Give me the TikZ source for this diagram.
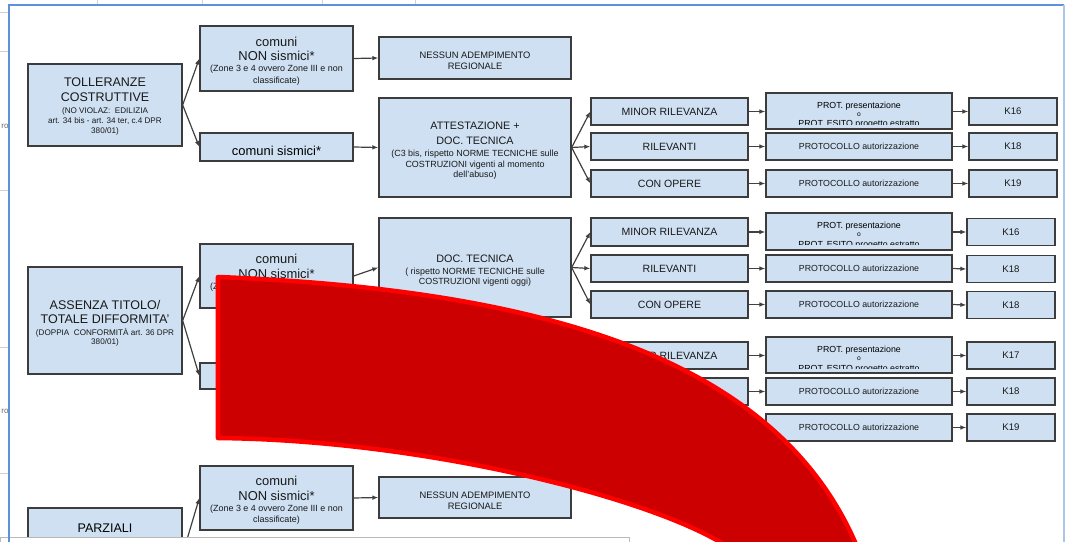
\documentclass[tikz,border=0pt]{standalone}
\usepackage{fontspec}
\setmainfont{Liberation Sans}
\usetikzlibrary{arrows.meta}

\definecolor{cellfill}{RGB}{206,224,242}
\definecolor{cellline}{RGB}{60,60,60}
\definecolor{bigred}{RGB}{204,0,0}
\definecolor{bigredrim}{RGB}{255,0,0}
\definecolor{frameblue}{RGB}{92,146,216}
\definecolor{frameblue2}{RGB}{172,198,236}

\newcommand\szNote{\fontsize{6.7pt}{7.5pt}\selectfont}
\newcommand\szNoteS{\fontsize{6.1pt}{7.5pt}\selectfont}
\newcommand\szCat{\fontsize{7.9pt}{9pt}\selectfont}
\newcommand\szProt{\fontsize{6.6pt}{7pt}\selectfont}
\newcommand\szKey{\fontsize{7.2pt}{8pt}\selectfont}
\newcommand\txtdrop[1]{\rule{0pt}{#1}}

\tikzset{every picture/.style={line width=0.75pt}}

\begin{document}
\begin{tikzpicture}[x=0.75pt,y=0.75pt,yscale=-1,xscale=1,
    cellbox/.style={draw=cellline, fill=cellfill, line width=1pt, inner sep=0pt, align=center, text=black!90},
    wtitle/.style={minimum width=115.5pt},
    wcomuni/.style={minimum width=114.75pt},
    wademp/.style={minimum width=144pt},
    wcat/.style={minimum width=117.75pt},
    wprot/.style={minimum width=139.5pt},
    wkey/.style={minimum width=66pt},
    hrow/.style={minimum height=20.25pt},
    ftitle/.style={font=\fontsize{9.4pt}{11.25pt}\selectfont},
    fassenza/.style={font=\fontsize{9.4pt}{10.5pt}\selectfont},
    fcomuni/.style={font=\fontsize{9.7pt}{10.7pt}\selectfont},
    fness/.style={font=\fontsize{7pt}{8.3pt}\selectfont},
    fatt/.style={font=\fontsize{8.1pt}{11pt}\selectfont},
    fdoc/.style={font=\fontsize{8.1pt}{9.5pt}\selectfont},
    fprot/.style={font=\fontsize{6.6pt}{9.75pt}\selectfont},
    conn/.style={draw=black!75, line width=0.9pt, -{Latex[length=4.5pt,width=3.5pt]}}]
    \useasboundingbox (0,0) rectangle (1067,542);
    \clip (0,0) rectangle (1067,542);

    %Shape: margin of the page behind
    \draw [gray!35] (0,13) -- (9,13) (0,52) -- (9,52) (0,190) -- (9,190) (0,347) -- (9,347) (0,473) -- (9,473);
    \draw [gray!35] (97,0) -- (97,5) (202,0) -- (202,5) (322,0) -- (322,5) (415,0) -- (415,5);
    % Text Node
    \node [anchor=east, inner sep=0pt, text=black!60] (cut1) at (9,126) {\fontsize{6pt}{7pt}\selectfont ro};
    % Text Node
    \node [anchor=east, inner sep=0pt, text=black!60] (cut2) at (9,411) {\fontsize{6pt}{7pt}\selectfont ro};

    %Shape: Rectangle -- TOLLERANZE
    \node [cellbox, ftitle, wtitle, minimum height=61.5pt] (toll) at (105,105) {\txtdrop{8.8pt}TOLLERANZE\\COSTRUTTIVE\\[-2.7pt]\szNoteS (NO VIOLAZ:\ \ EDILIZIA\\[-3.75pt]\szNoteS art. 34 bis - art. 34 ter, c.4 DPR\\[-3.75pt]\szNoteS 380/01)};
    %Shape: Rectangle
    \node [cellbox, fcomuni, wcomuni, minimum height=48.75pt] (nons1) at (276.5,58.5) {\txtdrop{10.8pt}comuni\\NON sismici*\\[-2.15pt]\szNote (Zone 3 e 4 ovvero Zone III e non\\[-2.2pt]\szNote classificate)};
    %Shape: Rectangle
    \node [cellbox, wcomuni, minimum height=21pt] (sism1) at (276.5,147) {};
    \begin{scope}
    \clip (200,133) rectangle (353,154.5);
    % Text Node
    \node [fcomuni, anchor=base, inner sep=0pt] (sism1t) at (276.5,155) {comuni sismici*};
    \end{scope}
    %Shape: Rectangle
    \node [cellbox, fness, wademp, minimum height=31.5pt] (ness1) at (475,58) {\txtdrop{9.6pt}NESSUN ADEMPIMENTO\\REGIONALE};
    %Shape: Rectangle
    \node [cellbox, fatt, wademp, minimum height=74.25pt] (att) at (475,147.5) {\txtdrop{10.4pt}ATTESTAZIONE +\\DOC. TECNICA\\[-1.5pt]\szNote (C3 bis, rispetto NORME TECNICHE sulle\\[-3pt]\szNote COSTRUZIONI vigenti al momento\\[-3.5pt]\szNote dell'abuso)};
    %Shape: Rectangle
    \node [cellbox, wcat, hrow] (minor1) at (669.5,111.5) {\szCat MINOR RILEVANZA};
    \node [cellbox, wcat, hrow] (rilev1) at (669.5,146.5) {\szCat RILEVANTI};
    \node [cellbox, wcat, hrow] (opere1) at (669.5,183.5) {\szCat CON OPERE};
    %Shape: Rectangle
    \node [cellbox, wprot, minimum height=27pt] (prot1) at (859,111) {};
    \begin{scope}
    \clip (766,93) rectangle (952,124);
    % Text Node
    \node [fprot, anchor=north, inner sep=0pt, align=center] (prot1t) at (859,101.6) {PROT. presentazione\\[-3.75pt]{\fontsize{5pt}{6pt}\selectfont o}\\[-1.9pt]PROT. ESITO progetto estratto};
    \end{scope}
    \node [cellbox, wprot, hrow] (aut1a) at (859,146.5) {\szProt PROTOCOLLO autorizzazione};
    \node [cellbox, wprot, hrow] (aut1b) at (859,183.5) {\szProt PROTOCOLLO autorizzazione};
    %Shape: Rectangle
    \node [cellbox, wkey, hrow] (k1a) at (1013,111.5) {\szKey K16};
    \node [cellbox, wkey, hrow] (k1b) at (1013,146.5) {\szKey K18};
    \node [cellbox, wkey, hrow] (k1c) at (1013,183.5) {\szKey K19};

    %Straight Lines
    \draw [conn] (toll.east) -- (nons1.west);
    \draw [conn] (toll.east) -- (sism1.west);
    \draw [conn] (nons1.east) -- (ness1.west);
    \draw [conn] (sism1.east) -- (att.west);
    \draw [conn] (att.east) -- (minor1.west);
    \draw [conn] (att.east) -- (rilev1.west);
    \draw [conn] (att.east) -- (opere1.west);
    \draw [conn] (minor1.east) -- (minor1.east -| prot1.west);
    \draw [conn] (rilev1.east) -- (aut1a.west);
    \draw [conn] (opere1.east) -- (aut1b.west);
    \draw [conn] (k1a.west -| prot1.east) -- (k1a.west);
    \draw [conn] (aut1a.east) -- (k1b.west);
    \draw [conn] (aut1b.east) -- (k1c.west);

    %Shape: Rectangle -- ASSENZA TITOLO
    \node [cellbox, fassenza, wtitle, minimum height=80.25pt] (ass) at (105,320.5) {\txtdrop{11.3pt}ASSENZA TITOLO/\\TOTALE DIFFORMITA'\\[-1.7pt]\szNoteS (DOPPIA\ \ CONFORMIT\`A art. 36 DPR\\[-3.5pt]\szNoteS 380/01)};
    %Shape: Rectangle
    \node [cellbox, fcomuni, wcomuni, minimum height=48pt] (nons2) at (276.5,276) {\txtdrop{10.8pt}comuni\\NON sismici*\\[-2.15pt]\szNote (Zone 3 e 4 ovvero Zone III e non\\[-2.2pt]\szNote classificate)};
    \node [cellbox, wcomuni, minimum height=19.5pt] (sism2) at (276.5,376) {};
    %Shape: Rectangle
    \node [cellbox, fdoc, wademp, minimum height=74.25pt] (doc) at (475,267.5) {\txtdrop{10.4pt}DOC. TECNICA\\\szNote ( rispetto NORME TECNICHE sulle\\[-2pt]\szNote COSTRUZIONI vigenti oggi)};
    %Shape: Rectangle
    \node [cellbox, wcat, minimum height=21pt] (minor2) at (669.5,232) {\szCat MINOR RILEVANZA};
    \node [cellbox, wcat, hrow] (rilev2) at (669.5,268.5) {\szCat RILEVANTI};
    \node [cellbox, wcat, hrow] (opere2) at (669.5,304.5) {\szCat CON OPERE};
    %Shape: Rectangle
    \node [cellbox, wprot, minimum height=27.75pt] (prot2) at (859,231.5) {};
    \begin{scope}
    \clip (766,213) rectangle (952,244);
    % Text Node
    \node [fprot, anchor=north, inner sep=0pt, align=center] (prot2t) at (859,221.8) {PROT. presentazione\\[-3.75pt]{\fontsize{5pt}{6pt}\selectfont o}\\[-1.9pt]PROT. ESITO progetto estratto};
    \end{scope}
    \node [cellbox, wprot, hrow] (aut2a) at (859,268.5) {\szProt PROTOCOLLO autorizzazione};
    \node [cellbox, wprot, hrow] (aut2b) at (859,304.5) {\szProt PROTOCOLLO autorizzazione};
    %Shape: Rectangle
    \node [cellbox, wkey, hrow] (k2a) at (1011,232) {\szKey K16};
    \node [cellbox, wkey, hrow] (k2b) at (1011,269) {\szKey K18};
    \node [cellbox, wkey, hrow] (k2c) at (1011,305) {\szKey K18};

    %Shape: Rectangle -- second branch
    \node [cellbox, wcat, hrow] (minor3) at (669.5,355.5) {\szCat MINOR RILEVANZA};
    \node [cellbox, wcat, hrow] (rilev3) at (669.5,391.5) {};
    \node [cellbox, wcat, hrow] (opere3) at (669.5,427.5) {};
    %Shape: Rectangle
    \node [cellbox, wprot, minimum height=27pt] (prot3) at (859,355) {};
    \begin{scope}
    \clip (766,337) rectangle (952,368);
    % Text Node
    \node [fprot, anchor=north, inner sep=0pt, align=center] (prot3t) at (859,345.8) {PROT. presentazione\\[-3.75pt]{\fontsize{5pt}{6pt}\selectfont o}\\[-1.9pt]PROT. ESITO progetto estratto};
    \end{scope}
    \node [cellbox, wprot, hrow] (aut3a) at (859,391.5) {\szProt PROTOCOLLO autorizzazione};
    \node [cellbox, wprot, hrow] (aut3b) at (859,427.5) {\szProt PROTOCOLLO autorizzazione};
    %Shape: Rectangle
    \node [cellbox, wkey, hrow] (k3a) at (1011,355.5) {\szKey K17};
    \node [cellbox, wkey, hrow] (k3b) at (1011,391.5) {\szKey K18};
    \node [cellbox, wkey, hrow] (k3c) at (1011,427.5) {\szKey K19};

    %Straight Lines
    \draw [conn] (ass.east) -- (nons2.west);
    \draw [conn] (ass.east) -- (sism2.west);
    \draw [conn] (nons2.east) -- (doc.west);
    \draw [conn] (doc.east) -- (minor2.west);
    \draw [conn] (doc.east) -- (rilev2.west);
    \draw [conn] (doc.east) -- (opere2.west);
    \draw [conn] (minor2.east) -- (minor2.east -| prot2.west);
    \draw [conn] (rilev2.east) -- (aut2a.west);
    \draw [conn] (opere2.east) -- (aut2b.west);
    \draw [conn] (k2a.west -| prot2.east) -- (k2a.west);
    \draw [conn] (aut2a.east) -- (k2b.west);
    \draw [conn] (aut2b.east) -- (k2c.west);
    \draw [conn] (minor3.east) -- (minor3.east -| prot3.west);
    \draw [conn] (rilev3.east) -- (aut3a.west);
    \draw [conn] (opere3.east) -- (aut3b.west);
    \draw [conn] (k3a.west -| prot3.east) -- (k3a.west);
    \draw [conn] (aut3a.east) -- (k3b.west);
    \draw [conn] (aut3b.east) -- (k3c.west);

    %Shape: Rectangle -- PARZIALI
    \node [cellbox, wtitle, minimum height=69pt] (parz) at (105,554) {};
    % Text Node
    \node [ftitle, inner sep=0pt] (parzt) at (105,528) {PARZIALI};
    %Shape: Rectangle
    \node [cellbox, fcomuni, wcomuni, minimum height=48pt] (nons3) at (276.5,498) {\txtdrop{10.8pt}comuni\\NON sismici*\\[-2.15pt]\szNote (Zone 3 e 4 ovvero Zone III e non\\[-2.2pt]\szNote classificate)};
    \node [cellbox, fness, wademp, minimum height=30.75pt] (ness3) at (475,497.5) {\txtdrop{9.6pt}NESSUN ADEMPIMENTO\\REGIONALE};
    %Straight Lines
    \draw [conn] (parz.east) -- (nons3.west);
    \draw [conn] (nons3.east) -- (ness3.west);

    %Shape: big red curved band
    \draw [draw=bigredrim, fill=bigred, line width=3.4pt, line join=round] (218,277) .. controls (548,290) and (775,360) .. (855,542) -- (880,600) -- (760,566) -- (720,542) .. controls (640,495) and (420,440) .. (218,438) -- cycle;

    %Shape: grey panel at the bottom
    \draw [draw=gray!55, fill=white] (0,537) rectangle (629,560);

    %Straight Lines -- blue frame
    \draw [frameblue, line width=1.9pt] (9,542) -- (9,5) -- (1064,5);
    \draw [frameblue2, line width=1.1pt] (1064,5) -- (1064,542);

\end{tikzpicture}
\end{document}
